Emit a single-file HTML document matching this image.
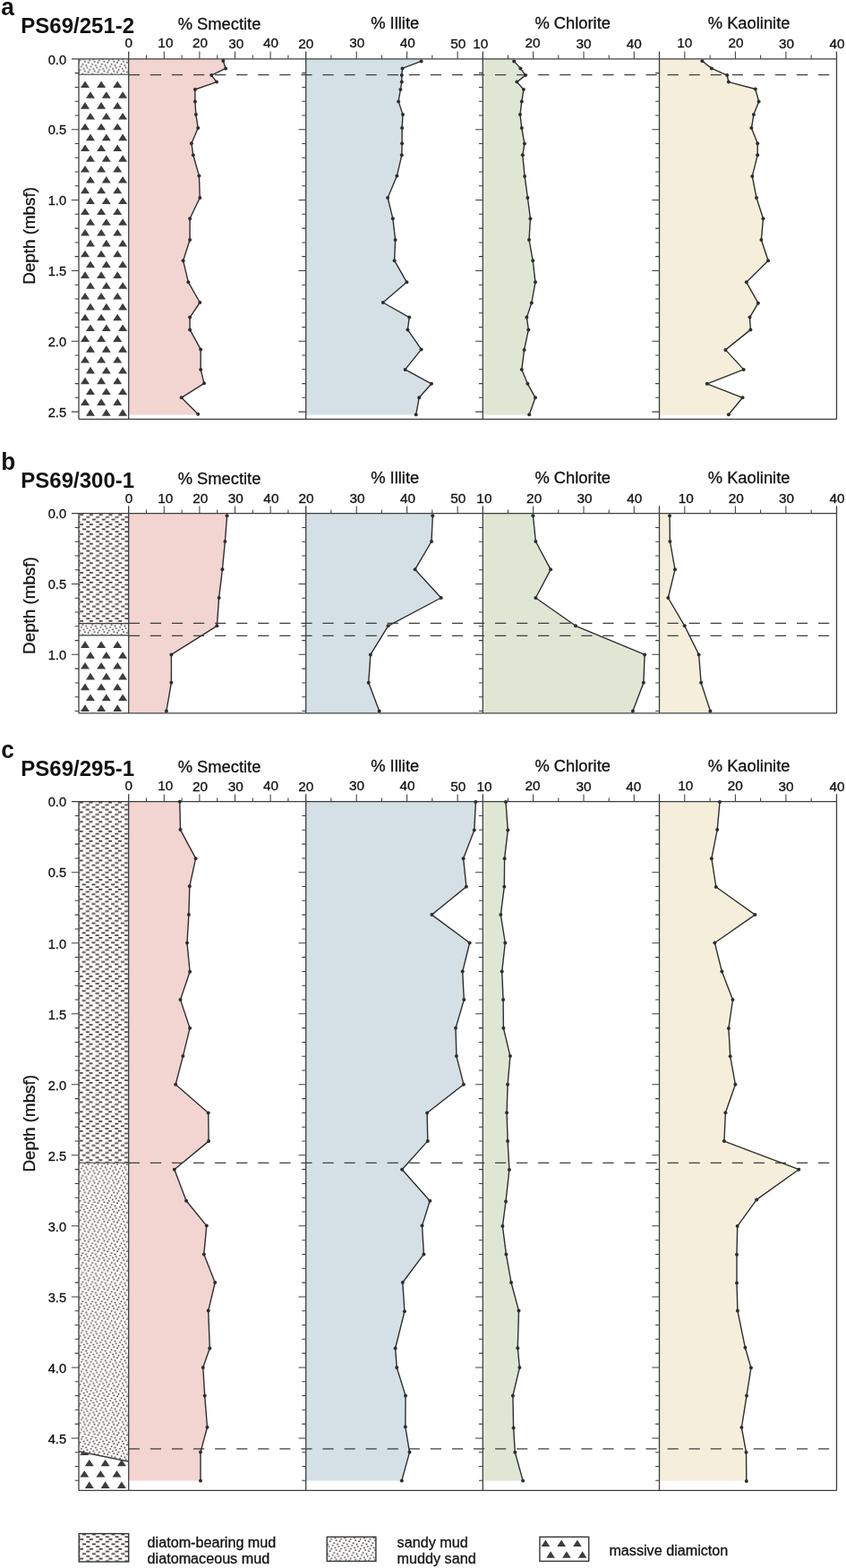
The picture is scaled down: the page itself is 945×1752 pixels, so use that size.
<!DOCTYPE html>
<html lang="en">
<head>
<meta charset="utf-8">
<title>Clay mineral records</title>
<style>html,body{margin:0;padding:0;background:#fff}svg{display:block}</style>
</head>
<body>
<svg width="945" height="1752" viewBox="0 0 945 1752" font-family="'Liberation Sans', Arial, Helvetica, sans-serif" fill="#111111">
<rect x="0" y="0" width="945" height="1752" fill="#ffffff"/>
<defs>
<pattern id="pmud" patternUnits="userSpaceOnUse" x="89.1" y="574.3" width="10.8" height="10.8"><rect x="0" y="0" width="10.8" height="10.8" fill="#fdfaf8"/><rect x="-10.8" y="0" width="4.0" height="1.7" fill="#3c3c3c"/><rect x="0" y="0" width="4.0" height="1.7" fill="#3c3c3c"/><rect x="10.8" y="0" width="4.0" height="1.7" fill="#3c3c3c"/><rect x="-3.6" y="2.7" width="4.0" height="1.7" fill="#3c3c3c"/><rect x="7.2" y="2.7" width="4.0" height="1.7" fill="#3c3c3c"/><rect x="18" y="2.7" width="4.0" height="1.7" fill="#3c3c3c"/><rect x="-7.8" y="5.4" width="4.0" height="1.7" fill="#3c3c3c"/><rect x="3" y="5.4" width="4.0" height="1.7" fill="#3c3c3c"/><rect x="13.8" y="5.4" width="4.0" height="1.7" fill="#3c3c3c"/><rect x="-3.6" y="8.1" width="4.0" height="1.7" fill="#3c3c3c"/><rect x="7.2" y="8.1" width="4.0" height="1.7" fill="#3c3c3c"/><rect x="18" y="8.1" width="4.0" height="1.7" fill="#3c3c3c"/></pattern>
<pattern id="pmudc" patternUnits="userSpaceOnUse" x="88.7" y="895.75" width="10.8" height="10.8"><rect x="0" y="0" width="10.8" height="10.8" fill="#fdfaf8"/><rect x="-10.8" y="0" width="4.0" height="1.7" fill="#3c3c3c"/><rect x="0" y="0" width="4.0" height="1.7" fill="#3c3c3c"/><rect x="10.8" y="0" width="4.0" height="1.7" fill="#3c3c3c"/><rect x="-3.6" y="2.7" width="4.0" height="1.7" fill="#3c3c3c"/><rect x="7.2" y="2.7" width="4.0" height="1.7" fill="#3c3c3c"/><rect x="18" y="2.7" width="4.0" height="1.7" fill="#3c3c3c"/><rect x="-7.8" y="5.4" width="4.0" height="1.7" fill="#3c3c3c"/><rect x="3" y="5.4" width="4.0" height="1.7" fill="#3c3c3c"/><rect x="13.8" y="5.4" width="4.0" height="1.7" fill="#3c3c3c"/><rect x="-3.6" y="8.1" width="4.0" height="1.7" fill="#3c3c3c"/><rect x="7.2" y="8.1" width="4.0" height="1.7" fill="#3c3c3c"/><rect x="18" y="8.1" width="4.0" height="1.7" fill="#3c3c3c"/></pattern>
<pattern id="psand" patternUnits="userSpaceOnUse" x="89.8" y="1400" width="10.8" height="10.8"><rect x="0" y="0" width="10.8" height="10.8" fill="#fdfbfa"/><circle cx="2.54" cy="0.2" r="0.9" fill="#454042"/><circle cx="2.54" cy="11" r="0.9" fill="#454042"/><circle cx="6.36" cy="1.48" r="0.9" fill="#454042"/><circle cx="1.06" cy="2.75" r="0.9" fill="#454042"/><circle cx="7.63" cy="4.03" r="0.9" fill="#454042"/><circle cx="3.81" cy="5.3" r="0.9" fill="#454042"/><circle cx="-0.42" cy="6.57" r="0.9" fill="#454042"/><circle cx="10.38" cy="6.57" r="0.9" fill="#454042"/><circle cx="5.08" cy="8.05" r="0.9" fill="#454042"/><circle cx="8.9" cy="9.11" r="0.9" fill="#454042"/></pattern>
</defs>
<path d="M143.7 65.8L249.3 65.8L249.3 68L252.1 76.4L236.2 84.1L242 91.6L217.9 100L217.9 113.4L218.9 128.1L221.2 143.1L213.9 160.2L215.8 173.3L222.4 196.4L223.3 221L212.1 244.2L212.1 268L204.6 291.2L210.4 315.3L223.3 338L212.1 354.6L212.1 368.4L224.2 390.4L224.2 412.9L228 428.3L202.7 444.3L221.2 462.7L221.2 463.4L143.7 463.4Z" fill="#f2d4d1"/>
<path d="M341.7 65.8L470.6 65.8L470.6 68.4L449.5 76.4L448.8 84.1L448.8 91.6L447.4 100L445.1 113.4L450 128.1L449.1 143.1L449.1 160.2L448.8 173.3L443.4 196.4L433.1 221L438.8 244.2L441.6 268L440.6 291.2L454.4 315.3L427.8 338L457.2 354.6L455.4 368.4L470.6 390.4L452.6 412.9L482 428.8L468.2 444.3L464.7 463.2L464.7 463.4L341.7 463.4Z" fill="#d4e0e5"/>
<path d="M539.3 65.8L574.2 65.8L574.2 68.4L581.4 76.4L587 84.1L577.4 91.6L584.9 100L582.8 113.4L581 128.1L582.8 143.1L585.9 160.6L583.8 173.3L586.1 196.9L589.4 221L592.4 244.2L591 268L595.2 291.2L598 315.3L593.8 338.5L588.4 354.6L590.3 368.4L585.6 390.9L582.8 412.9L589.4 428.8L598 444.3L591.2 463.2L591.2 463.4L539.3 463.4Z" fill="#dfe6d4"/>
<path d="M736.5 65.8L784.4 65.8L784.4 68.2L794.9 76.4L812.2 84.1L813.9 91.6L843.8 99.5L847.6 113.4L841.9 128.1L839.4 143.1L846.2 160.2L846.2 173.3L840.3 196.9L845 221L852.5 244.2L850.4 268L858.1 291.2L833.8 315.3L846.9 338.7L837.5 354.6L838.4 368.4L810.4 390.9L830.7 412.9L789.8 428.8L829.5 444.3L813.9 463.2L813.9 463.4L736.5 463.4Z" fill="#f5eeda"/>
<rect x="88.0" y="65.85" width="55.69999999999999" height="17.35000000000001" fill="url(#psand)"/>
<path d="M88.0 83.2H143.7" stroke="#3b3f42" stroke-width="1.1" fill="none"/>
<g fill="#3d3d3d"><path d="M90 98L100 98L95 90.4Z"/><path d="M108.1 98L118.1 98L113.1 90.4Z"/><path d="M126.2 98L136.2 98L131.2 90.4Z"/><path d="M96 109.8L106 109.8L101 102.2Z"/><path d="M113.8 109.8L123.8 109.8L118.8 102.2Z"/><path d="M132.1 109.8L142.1 109.8L137.1 102.2Z"/><path d="M90 121.7L100 121.7L95 114.1Z"/><path d="M108.1 121.7L118.1 121.7L113.1 114.1Z"/><path d="M126.2 121.7L136.2 121.7L131.2 114.1Z"/><path d="M96 133.5L106 133.5L101 125.9Z"/><path d="M113.8 133.5L123.8 133.5L118.8 125.9Z"/><path d="M132.1 133.5L142.1 133.5L137.1 125.9Z"/><path d="M90 145.3L100 145.3L95 137.7Z"/><path d="M108.1 145.3L118.1 145.3L113.1 137.7Z"/><path d="M126.2 145.3L136.2 145.3L131.2 137.7Z"/><path d="M96 157.2L106 157.2L101 149.6Z"/><path d="M113.8 157.2L123.8 157.2L118.8 149.6Z"/><path d="M132.1 157.2L142.1 157.2L137.1 149.6Z"/><path d="M90 169L100 169L95 161.4Z"/><path d="M108.1 169L118.1 169L113.1 161.4Z"/><path d="M126.2 169L136.2 169L131.2 161.4Z"/><path d="M96 180.8L106 180.8L101 173.2Z"/><path d="M113.8 180.8L123.8 180.8L118.8 173.2Z"/><path d="M132.1 180.8L142.1 180.8L137.1 173.2Z"/><path d="M90 192.6L100 192.6L95 185Z"/><path d="M108.1 192.6L118.1 192.6L113.1 185Z"/><path d="M126.2 192.6L136.2 192.6L131.2 185Z"/><path d="M96 204.5L106 204.5L101 196.9Z"/><path d="M113.8 204.5L123.8 204.5L118.8 196.9Z"/><path d="M132.1 204.5L142.1 204.5L137.1 196.9Z"/><path d="M90 216.3L100 216.3L95 208.7Z"/><path d="M108.1 216.3L118.1 216.3L113.1 208.7Z"/><path d="M126.2 216.3L136.2 216.3L131.2 208.7Z"/><path d="M96 228.1L106 228.1L101 220.5Z"/><path d="M113.8 228.1L123.8 228.1L118.8 220.5Z"/><path d="M132.1 228.1L142.1 228.1L137.1 220.5Z"/><path d="M90 240L100 240L95 232.4Z"/><path d="M108.1 240L118.1 240L113.1 232.4Z"/><path d="M126.2 240L136.2 240L131.2 232.4Z"/><path d="M96 251.8L106 251.8L101 244.2Z"/><path d="M113.8 251.8L123.8 251.8L118.8 244.2Z"/><path d="M132.1 251.8L142.1 251.8L137.1 244.2Z"/><path d="M90 263.6L100 263.6L95 256Z"/><path d="M108.1 263.6L118.1 263.6L113.1 256Z"/><path d="M126.2 263.6L136.2 263.6L131.2 256Z"/><path d="M96 275.4L106 275.4L101 267.8Z"/><path d="M113.8 275.4L123.8 275.4L118.8 267.8Z"/><path d="M132.1 275.4L142.1 275.4L137.1 267.8Z"/><path d="M90 287.3L100 287.3L95 279.7Z"/><path d="M108.1 287.3L118.1 287.3L113.1 279.7Z"/><path d="M126.2 287.3L136.2 287.3L131.2 279.7Z"/><path d="M96 299.1L106 299.1L101 291.5Z"/><path d="M113.8 299.1L123.8 299.1L118.8 291.5Z"/><path d="M132.1 299.1L142.1 299.1L137.1 291.5Z"/><path d="M90 310.9L100 310.9L95 303.3Z"/><path d="M108.1 310.9L118.1 310.9L113.1 303.3Z"/><path d="M126.2 310.9L136.2 310.9L131.2 303.3Z"/><path d="M96 322.8L106 322.8L101 315.2Z"/><path d="M113.8 322.8L123.8 322.8L118.8 315.2Z"/><path d="M132.1 322.8L142.1 322.8L137.1 315.2Z"/><path d="M90 334.6L100 334.6L95 327Z"/><path d="M108.1 334.6L118.1 334.6L113.1 327Z"/><path d="M126.2 334.6L136.2 334.6L131.2 327Z"/><path d="M96 346.4L106 346.4L101 338.8Z"/><path d="M113.8 346.4L123.8 346.4L118.8 338.8Z"/><path d="M132.1 346.4L142.1 346.4L137.1 338.8Z"/><path d="M90 358.3L100 358.3L95 350.7Z"/><path d="M108.1 358.3L118.1 358.3L113.1 350.7Z"/><path d="M126.2 358.3L136.2 358.3L131.2 350.7Z"/><path d="M96 370.1L106 370.1L101 362.5Z"/><path d="M113.8 370.1L123.8 370.1L118.8 362.5Z"/><path d="M132.1 370.1L142.1 370.1L137.1 362.5Z"/><path d="M90 381.9L100 381.9L95 374.3Z"/><path d="M108.1 381.9L118.1 381.9L113.1 374.3Z"/><path d="M126.2 381.9L136.2 381.9L131.2 374.3Z"/><path d="M96 393.8L106 393.8L101 386.1Z"/><path d="M113.8 393.8L123.8 393.8L118.8 386.1Z"/><path d="M132.1 393.8L142.1 393.8L137.1 386.1Z"/><path d="M90 405.6L100 405.6L95 398Z"/><path d="M108.1 405.6L118.1 405.6L113.1 398Z"/><path d="M126.2 405.6L136.2 405.6L131.2 398Z"/><path d="M96 417.4L106 417.4L101 409.8Z"/><path d="M113.8 417.4L123.8 417.4L118.8 409.8Z"/><path d="M132.1 417.4L142.1 417.4L137.1 409.8Z"/><path d="M90 429.2L100 429.2L95 421.6Z"/><path d="M108.1 429.2L118.1 429.2L113.1 421.6Z"/><path d="M126.2 429.2L136.2 429.2L131.2 421.6Z"/><path d="M96 441.1L106 441.1L101 433.5Z"/><path d="M113.8 441.1L123.8 441.1L118.8 433.5Z"/><path d="M132.1 441.1L142.1 441.1L137.1 433.5Z"/><path d="M90 452.9L100 452.9L95 445.3Z"/><path d="M108.1 452.9L118.1 452.9L113.1 445.3Z"/><path d="M126.2 452.9L136.2 452.9L131.2 445.3Z"/><path d="M96 464.7L106 464.7L101 457.1Z"/><path d="M113.8 464.7L123.8 464.7L118.8 457.1Z"/><path d="M132.1 464.7L142.1 464.7L137.1 457.1Z"/></g>
<path d="M143.8 83.7H926.4" stroke="#3b3f42" stroke-width="1.3" stroke-dasharray="12.2 11.87" fill="none"/>
<path d="M80 65.8H934.5M88 468.4H934.5M88 65.8V468.4M143.7 57.4V468.4M341.7 57.4V468.4M539.3 57.4V468.4M736.5 57.4V468.4M934.5 57.4V468.4" stroke="#3b3f42" stroke-width="1.3" fill="none"/>
<text transform="translate(74.1 71.6) scale(1.035 1)" font-size="14.2" text-anchor="end" stroke="#111111" stroke-width="0.3">0.0</text>
<text transform="translate(74.1 150.45) scale(1.035 1)" font-size="14.2" text-anchor="end" stroke="#111111" stroke-width="0.3">0.5</text>
<text transform="translate(74.1 229.3) scale(1.035 1)" font-size="14.2" text-anchor="end" stroke="#111111" stroke-width="0.3">1.0</text>
<text transform="translate(74.1 308.15) scale(1.035 1)" font-size="14.2" text-anchor="end" stroke="#111111" stroke-width="0.3">1.5</text>
<text transform="translate(74.1 387) scale(1.035 1)" font-size="14.2" text-anchor="end" stroke="#111111" stroke-width="0.3">2.0</text>
<text transform="translate(74.1 465.85) scale(1.035 1)" font-size="14.2" text-anchor="end" stroke="#111111" stroke-width="0.3">2.5</text>
<path d="M83.6 81.6H88M337.3 81.6H341.7M534.9 81.6H539.3M732.1 81.6H736.5M83.6 97.4H88M337.3 97.4H341.7M534.9 97.4H539.3M732.1 97.4H736.5M83.6 113.2H88M337.3 113.2H341.7M534.9 113.2H539.3M732.1 113.2H736.5M83.6 128.9H88M337.3 128.9H341.7M534.9 128.9H539.3M732.1 128.9H736.5M79.8 144.7H88M333.5 144.7H341.7M531.1 144.7H539.3M728.3 144.7H736.5M83.6 160.5H88M337.3 160.5H341.7M534.9 160.5H539.3M732.1 160.5H736.5M83.6 176.2H88M337.3 176.2H341.7M534.9 176.2H539.3M732.1 176.2H736.5M83.6 192H88M337.3 192H341.7M534.9 192H539.3M732.1 192H736.5M83.6 207.8H88M337.3 207.8H341.7M534.9 207.8H539.3M732.1 207.8H736.5M79.8 223.5H88M333.5 223.5H341.7M531.1 223.5H539.3M728.3 223.5H736.5M83.6 239.3H88M337.3 239.3H341.7M534.9 239.3H539.3M732.1 239.3H736.5M83.6 255.1H88M337.3 255.1H341.7M534.9 255.1H539.3M732.1 255.1H736.5M83.6 270.9H88M337.3 270.9H341.7M534.9 270.9H539.3M732.1 270.9H736.5M83.6 286.6H88M337.3 286.6H341.7M534.9 286.6H539.3M732.1 286.6H736.5M79.8 302.4H88M333.5 302.4H341.7M531.1 302.4H539.3M728.3 302.4H736.5M83.6 318.2H88M337.3 318.2H341.7M534.9 318.2H539.3M732.1 318.2H736.5M83.6 333.9H88M337.3 333.9H341.7M534.9 333.9H539.3M732.1 333.9H736.5M83.6 349.7H88M337.3 349.7H341.7M534.9 349.7H539.3M732.1 349.7H736.5M83.6 365.5H88M337.3 365.5H341.7M534.9 365.5H539.3M732.1 365.5H736.5M79.8 381.2H88M333.5 381.2H341.7M531.1 381.2H539.3M728.3 381.2H736.5M83.6 397H88M337.3 397H341.7M534.9 397H539.3M732.1 397H736.5M83.6 412.8H88M337.3 412.8H341.7M534.9 412.8H539.3M732.1 412.8H736.5M83.6 428.6H88M337.3 428.6H341.7M534.9 428.6H539.3M732.1 428.6H736.5M83.6 444.3H88M337.3 444.3H341.7M534.9 444.3H539.3M732.1 444.3H736.5M79.8 460.1H88M333.5 460.1H341.7M531.1 460.1H539.3M728.3 460.1H736.5" stroke="#3b3f42" stroke-width="1.05" fill="none"/>
<text transform="translate(143.7 52.75) scale(1.08 1)" font-size="14.2" text-anchor="middle" stroke="#111111" stroke-width="0.3">0</text>
<text transform="translate(184.9 52.75) scale(1.08 1)" font-size="14.2" text-anchor="middle" stroke="#111111" stroke-width="0.3">10</text>
<text transform="translate(223.5 52.75) scale(1.08 1)" font-size="14.2" text-anchor="middle" stroke="#111111" stroke-width="0.3">20</text>
<text transform="translate(263.7 54.35) scale(1.08 1)" font-size="14.2" text-anchor="middle" stroke="#111111" stroke-width="0.3">30</text>
<text transform="translate(302.5 52.75) scale(1.08 1)" font-size="14.2" text-anchor="middle" stroke="#111111" stroke-width="0.3">40</text>
<text transform="translate(245 33.05) scale(1.025 1)" font-size="17.9" text-anchor="middle" stroke="#111111" stroke-width="0.3">% Smectite</text>
<text transform="translate(341.7 54.35) scale(1.08 1)" font-size="14.2" text-anchor="middle" stroke="#111111" stroke-width="0.3">20</text>
<text transform="translate(398.76 52.75) scale(1.08 1)" font-size="14.2" text-anchor="middle" stroke="#111111" stroke-width="0.3">30</text>
<text transform="translate(455.21 52.75) scale(1.08 1)" font-size="14.2" text-anchor="middle" stroke="#111111" stroke-width="0.3">40</text>
<text transform="translate(511.67 54.35) scale(1.08 1)" font-size="14.2" text-anchor="middle" stroke="#111111" stroke-width="0.3">50</text>
<text transform="translate(441.2 32.05) scale(1.025 1)" font-size="17.9" text-anchor="middle" stroke="#111111" stroke-width="0.3">% Illite</text>
<text transform="translate(536.7 54.35) scale(1.08 1)" font-size="14.2" text-anchor="middle" stroke="#111111" stroke-width="0.3">10</text>
<text transform="translate(595.04 52.75) scale(1.08 1)" font-size="14.2" text-anchor="middle" stroke="#111111" stroke-width="0.3">20</text>
<text transform="translate(651.99 54.35) scale(1.08 1)" font-size="14.2" text-anchor="middle" stroke="#111111" stroke-width="0.3">30</text>
<text transform="translate(708.33 54.35) scale(1.08 1)" font-size="14.2" text-anchor="middle" stroke="#111111" stroke-width="0.3">40</text>
<text transform="translate(639.7 32.05) scale(1.025 1)" font-size="17.9" text-anchor="middle" stroke="#111111" stroke-width="0.3">% Chlorite</text>
<text transform="translate(764.79 52.75) scale(1.08 1)" font-size="14.2" text-anchor="middle" stroke="#111111" stroke-width="0.3">10</text>
<text transform="translate(821.96 52.75) scale(1.08 1)" font-size="14.2" text-anchor="middle" stroke="#111111" stroke-width="0.3">20</text>
<text transform="translate(878.63 54.35) scale(1.08 1)" font-size="14.2" text-anchor="middle" stroke="#111111" stroke-width="0.3">30</text>
<text transform="translate(935.1 54.35) scale(1.08 1)" font-size="14.2" text-anchor="middle" stroke="#111111" stroke-width="0.3">40</text>
<text transform="translate(836.6 32.05) scale(1.025 1)" font-size="17.9" text-anchor="middle" stroke="#111111" stroke-width="0.3">% Kaolinite</text>
<path d="M163.5 61.6V65.8M183.3 57.6V65.8M203.1 61.6V65.8M222.9 57.6V65.8M242.7 61.6V65.8M262.5 57.6V65.8M282.3 61.6V65.8M302.1 57.6V65.8M321.9 61.6V65.8M369.9 61.6V65.8M398.2 57.6V65.8M426.4 61.6V65.8M454.6 57.6V65.8M482.8 61.6V65.8M511.1 57.6V65.8M567.5 61.6V65.8M595.6 57.6V65.8M623.8 61.6V65.8M652 57.6V65.8M680.2 61.6V65.8M708.3 57.6V65.8M764.8 57.6V65.8M793.1 61.6V65.8M821.4 57.6V65.8M849.6 61.6V65.8M877.9 57.6V65.8M906.2 61.6V65.8" stroke="#3b3f42" stroke-width="1.05" fill="none"/>
<path d="M249.3 68L252.1 76.4L236.2 84.1L242 91.6L217.9 100L217.9 113.4L218.9 128.1L221.2 143.1L213.9 160.2L215.8 173.3L222.4 196.4L223.3 221L212.1 244.2L212.1 268L204.6 291.2L210.4 315.3L223.3 338L212.1 354.6L212.1 368.4L224.2 390.4L224.2 412.9L228 428.3L202.7 444.3L221.2 462.7" stroke="#2e2e2e" stroke-width="1.4" fill="none" stroke-linejoin="round"/>
<g fill="#2e2e2e"><circle cx="249.3" cy="68" r="2"/><circle cx="252.1" cy="76.4" r="2"/><circle cx="236.2" cy="84.1" r="2"/><circle cx="242" cy="91.6" r="2"/><circle cx="217.9" cy="100" r="2"/><circle cx="217.9" cy="113.4" r="2"/><circle cx="218.9" cy="128.1" r="2"/><circle cx="221.2" cy="143.1" r="2"/><circle cx="213.9" cy="160.2" r="2"/><circle cx="215.8" cy="173.3" r="2"/><circle cx="222.4" cy="196.4" r="2"/><circle cx="223.3" cy="221" r="2"/><circle cx="212.1" cy="244.2" r="2"/><circle cx="212.1" cy="268" r="2"/><circle cx="204.6" cy="291.2" r="2"/><circle cx="210.4" cy="315.3" r="2"/><circle cx="223.3" cy="338" r="2"/><circle cx="212.1" cy="354.6" r="2"/><circle cx="212.1" cy="368.4" r="2"/><circle cx="224.2" cy="390.4" r="2"/><circle cx="224.2" cy="412.9" r="2"/><circle cx="228" cy="428.3" r="2"/><circle cx="202.7" cy="444.3" r="2"/><circle cx="221.2" cy="462.7" r="2"/></g>
<path d="M470.6 68.4L449.5 76.4L448.8 84.1L448.8 91.6L447.4 100L445.1 113.4L450 128.1L449.1 143.1L449.1 160.2L448.8 173.3L443.4 196.4L433.1 221L438.8 244.2L441.6 268L440.6 291.2L454.4 315.3L427.8 338L457.2 354.6L455.4 368.4L470.6 390.4L452.6 412.9L482 428.8L468.2 444.3L464.7 463.2" stroke="#2e2e2e" stroke-width="1.4" fill="none" stroke-linejoin="round"/>
<g fill="#2e2e2e"><circle cx="470.6" cy="68.4" r="2"/><circle cx="449.5" cy="76.4" r="2"/><circle cx="448.8" cy="84.1" r="2"/><circle cx="448.8" cy="91.6" r="2"/><circle cx="447.4" cy="100" r="2"/><circle cx="445.1" cy="113.4" r="2"/><circle cx="450" cy="128.1" r="2"/><circle cx="449.1" cy="143.1" r="2"/><circle cx="449.1" cy="160.2" r="2"/><circle cx="448.8" cy="173.3" r="2"/><circle cx="443.4" cy="196.4" r="2"/><circle cx="433.1" cy="221" r="2"/><circle cx="438.8" cy="244.2" r="2"/><circle cx="441.6" cy="268" r="2"/><circle cx="440.6" cy="291.2" r="2"/><circle cx="454.4" cy="315.3" r="2"/><circle cx="427.8" cy="338" r="2"/><circle cx="457.2" cy="354.6" r="2"/><circle cx="455.4" cy="368.4" r="2"/><circle cx="470.6" cy="390.4" r="2"/><circle cx="452.6" cy="412.9" r="2"/><circle cx="482" cy="428.8" r="2"/><circle cx="468.2" cy="444.3" r="2"/><circle cx="464.7" cy="463.2" r="2"/></g>
<path d="M574.2 68.4L581.4 76.4L587 84.1L577.4 91.6L584.9 100L582.8 113.4L581 128.1L582.8 143.1L585.9 160.6L583.8 173.3L586.1 196.9L589.4 221L592.4 244.2L591 268L595.2 291.2L598 315.3L593.8 338.5L588.4 354.6L590.3 368.4L585.6 390.9L582.8 412.9L589.4 428.8L598 444.3L591.2 463.2" stroke="#2e2e2e" stroke-width="1.4" fill="none" stroke-linejoin="round"/>
<g fill="#2e2e2e"><circle cx="574.2" cy="68.4" r="2"/><circle cx="581.4" cy="76.4" r="2"/><circle cx="587" cy="84.1" r="2"/><circle cx="577.4" cy="91.6" r="2"/><circle cx="584.9" cy="100" r="2"/><circle cx="582.8" cy="113.4" r="2"/><circle cx="581" cy="128.1" r="2"/><circle cx="582.8" cy="143.1" r="2"/><circle cx="585.9" cy="160.6" r="2"/><circle cx="583.8" cy="173.3" r="2"/><circle cx="586.1" cy="196.9" r="2"/><circle cx="589.4" cy="221" r="2"/><circle cx="592.4" cy="244.2" r="2"/><circle cx="591" cy="268" r="2"/><circle cx="595.2" cy="291.2" r="2"/><circle cx="598" cy="315.3" r="2"/><circle cx="593.8" cy="338.5" r="2"/><circle cx="588.4" cy="354.6" r="2"/><circle cx="590.3" cy="368.4" r="2"/><circle cx="585.6" cy="390.9" r="2"/><circle cx="582.8" cy="412.9" r="2"/><circle cx="589.4" cy="428.8" r="2"/><circle cx="598" cy="444.3" r="2"/><circle cx="591.2" cy="463.2" r="2"/></g>
<path d="M784.4 68.2L794.9 76.4L812.2 84.1L813.9 91.6L843.8 99.5L847.6 113.4L841.9 128.1L839.4 143.1L846.2 160.2L846.2 173.3L840.3 196.9L845 221L852.5 244.2L850.4 268L858.1 291.2L833.8 315.3L846.9 338.7L837.5 354.6L838.4 368.4L810.4 390.9L830.7 412.9L789.8 428.8L829.5 444.3L813.9 463.2" stroke="#2e2e2e" stroke-width="1.4" fill="none" stroke-linejoin="round"/>
<g fill="#2e2e2e"><circle cx="784.4" cy="68.2" r="2"/><circle cx="794.9" cy="76.4" r="2"/><circle cx="812.2" cy="84.1" r="2"/><circle cx="813.9" cy="91.6" r="2"/><circle cx="843.8" cy="99.5" r="2"/><circle cx="847.6" cy="113.4" r="2"/><circle cx="841.9" cy="128.1" r="2"/><circle cx="839.4" cy="143.1" r="2"/><circle cx="846.2" cy="160.2" r="2"/><circle cx="846.2" cy="173.3" r="2"/><circle cx="840.3" cy="196.9" r="2"/><circle cx="845" cy="221" r="2"/><circle cx="852.5" cy="244.2" r="2"/><circle cx="850.4" cy="268" r="2"/><circle cx="858.1" cy="291.2" r="2"/><circle cx="833.8" cy="315.3" r="2"/><circle cx="846.9" cy="338.7" r="2"/><circle cx="837.5" cy="354.6" r="2"/><circle cx="838.4" cy="368.4" r="2"/><circle cx="810.4" cy="390.9" r="2"/><circle cx="830.7" cy="412.9" r="2"/><circle cx="789.8" cy="428.8" r="2"/><circle cx="829.5" cy="444.3" r="2"/><circle cx="813.9" cy="463.2" r="2"/></g>
<text transform="translate(1.3 17.45) scale(0.955 1)" font-size="27.5" font-weight="bold">a</text>
<text transform="translate(23.3 36.85) scale(0.993 1)" font-size="24.2" font-weight="bold">PS69/251-2</text>
<text transform="translate(38.5 263.4) rotate(-90) scale(1.05 1)" font-size="17.9" text-anchor="middle" stroke="#111111" stroke-width="0.3">Depth (mbsf)</text>
<path d="M143.7 573.6L253.6 573.6L253.6 576.3L251.4 605L248.4 636.3L244.6 668L242.4 699.3L191.4 731.4L191.4 762.7L185.9 794.4L185.9 796L143.7 796Z" fill="#f2d4d1"/>
<path d="M341.7 573.6L483.3 573.6L483.3 576.3L482 605L463.6 636.3L492.7 668L433.6 699.3L413.9 731.4L411.7 762.7L423.7 794.4L423.7 796L341.7 796Z" fill="#d4e0e5"/>
<path d="M539.3 573.6L595.4 573.6L595.4 576.3L598.4 605L615.1 636.3L598.4 668L643 699.3L720.1 731.4L718.9 762.7L706.9 794.4L706.9 796L539.3 796Z" fill="#dfe6d4"/>
<path d="M736.5 573.6L748 573.6L748 576.3L748.4 605L754 636.3L746.3 668L764.7 699.3L780.6 731.4L783.1 762.7L793.4 794.4L793.4 796L736.5 796Z" fill="#f5eeda"/>
<rect x="88.0" y="573.65" width="55.69999999999999" height="122.95000000000005" fill="url(#pmud)"/>
<rect x="88.0" y="696.6" width="55.69999999999999" height="13.299999999999955" fill="url(#psand)"/>
<path d="M88.0 696.6H143.7M88.0 709.9H143.7" stroke="#3b3f42" stroke-width="1.1" fill="none"/>
<g fill="#3d3d3d"><path d="M90 723.9L100 723.9L95 716.3Z"/><path d="M108.1 723.9L118.1 723.9L113.1 716.3Z"/><path d="M126.2 723.9L136.2 723.9L131.2 716.3Z"/><path d="M96 735.7L106 735.7L101 728.1Z"/><path d="M113.8 735.7L123.8 735.7L118.8 728.1Z"/><path d="M132.1 735.7L142.1 735.7L137.1 728.1Z"/><path d="M90 747.6L100 747.6L95 740Z"/><path d="M108.1 747.6L118.1 747.6L113.1 740Z"/><path d="M126.2 747.6L136.2 747.6L131.2 740Z"/><path d="M96 759.4L106 759.4L101 751.8Z"/><path d="M113.8 759.4L123.8 759.4L118.8 751.8Z"/><path d="M132.1 759.4L142.1 759.4L137.1 751.8Z"/><path d="M90 771.2L100 771.2L95 763.6Z"/><path d="M108.1 771.2L118.1 771.2L113.1 763.6Z"/><path d="M126.2 771.2L136.2 771.2L131.2 763.6Z"/><path d="M96 783L106 783L101 775.4Z"/><path d="M113.8 783L123.8 783L118.8 775.4Z"/><path d="M132.1 783L142.1 783L137.1 775.4Z"/><path d="M90 794.9L100 794.9L95 787.3Z"/><path d="M108.1 794.9L118.1 794.9L113.1 787.3Z"/><path d="M126.2 794.9L136.2 794.9L131.2 787.3Z"/></g>
<path d="M143.8 696.4H926.4" stroke="#3b3f42" stroke-width="1.3" stroke-dasharray="12.2 11.87" fill="none"/>
<path d="M143.8 710.3H926.4" stroke="#3b3f42" stroke-width="1.3" stroke-dasharray="12.2 11.87" fill="none"/>
<path d="M80 573.6H934.5M88 796.9H934.5M88 573.6V796.9M143.7 565.2V796.9M341.7 565.2V796.9M539.3 565.2V796.9M736.5 565.2V796.9M934.5 565.2V796.9" stroke="#3b3f42" stroke-width="1.3" fill="none"/>
<text transform="translate(74.1 579.4) scale(1.035 1)" font-size="14.2" text-anchor="end" stroke="#111111" stroke-width="0.3">0.0</text>
<text transform="translate(74.1 658.25) scale(1.035 1)" font-size="14.2" text-anchor="end" stroke="#111111" stroke-width="0.3">0.5</text>
<text transform="translate(74.1 737.1) scale(1.035 1)" font-size="14.2" text-anchor="end" stroke="#111111" stroke-width="0.3">1.0</text>
<path d="M83.6 589.4H88M337.3 589.4H341.7M534.9 589.4H539.3M732.1 589.4H736.5M83.6 605.2H88M337.3 605.2H341.7M534.9 605.2H539.3M732.1 605.2H736.5M83.6 621H88M337.3 621H341.7M534.9 621H539.3M732.1 621H736.5M83.6 636.7H88M337.3 636.7H341.7M534.9 636.7H539.3M732.1 636.7H736.5M79.8 652.5H88M333.5 652.5H341.7M531.1 652.5H539.3M728.3 652.5H736.5M83.6 668.3H88M337.3 668.3H341.7M534.9 668.3H539.3M732.1 668.3H736.5M83.6 684H88M337.3 684H341.7M534.9 684H539.3M732.1 684H736.5M83.6 699.8H88M337.3 699.8H341.7M534.9 699.8H539.3M732.1 699.8H736.5M83.6 715.6H88M337.3 715.6H341.7M534.9 715.6H539.3M732.1 715.6H736.5M79.8 731.3H88M333.5 731.3H341.7M531.1 731.3H539.3M728.3 731.3H736.5M83.6 747.1H88M337.3 747.1H341.7M534.9 747.1H539.3M732.1 747.1H736.5M83.6 762.9H88M337.3 762.9H341.7M534.9 762.9H539.3M732.1 762.9H736.5M83.6 778.7H88M337.3 778.7H341.7M534.9 778.7H539.3M732.1 778.7H736.5M83.6 794.4H88M337.3 794.4H341.7M534.9 794.4H539.3M732.1 794.4H736.5" stroke="#3b3f42" stroke-width="1.05" fill="none"/>
<text transform="translate(144.1 562.15) scale(1.08 1)" font-size="14.2" text-anchor="middle" stroke="#111111" stroke-width="0.3">0</text>
<text transform="translate(184.7 562.15) scale(1.08 1)" font-size="14.2" text-anchor="middle" stroke="#111111" stroke-width="0.3">10</text>
<text transform="translate(223.7 562.15) scale(1.08 1)" font-size="14.2" text-anchor="middle" stroke="#111111" stroke-width="0.3">20</text>
<text transform="translate(263.3 562.15) scale(1.08 1)" font-size="14.2" text-anchor="middle" stroke="#111111" stroke-width="0.3">30</text>
<text transform="translate(302.9 562.15) scale(1.08 1)" font-size="14.2" text-anchor="middle" stroke="#111111" stroke-width="0.3">40</text>
<text transform="translate(245 540.85) scale(1.025 1)" font-size="17.9" text-anchor="middle" stroke="#111111" stroke-width="0.3">% Smectite</text>
<text transform="translate(342.1 562.15) scale(1.08 1)" font-size="14.2" text-anchor="middle" stroke="#111111" stroke-width="0.3">20</text>
<text transform="translate(398.96 562.15) scale(1.08 1)" font-size="14.2" text-anchor="middle" stroke="#111111" stroke-width="0.3">30</text>
<text transform="translate(455.41 562.15) scale(1.08 1)" font-size="14.2" text-anchor="middle" stroke="#111111" stroke-width="0.3">40</text>
<text transform="translate(511.87 562.15) scale(1.08 1)" font-size="14.2" text-anchor="middle" stroke="#111111" stroke-width="0.3">50</text>
<text transform="translate(441.2 539.85) scale(1.025 1)" font-size="17.9" text-anchor="middle" stroke="#111111" stroke-width="0.3">% Illite</text>
<text transform="translate(540.9 562.15) scale(1.08 1)" font-size="14.2" text-anchor="middle" stroke="#111111" stroke-width="0.3">10</text>
<text transform="translate(596.64 562.15) scale(1.08 1)" font-size="14.2" text-anchor="middle" stroke="#111111" stroke-width="0.3">20</text>
<text transform="translate(652.99 562.15) scale(1.08 1)" font-size="14.2" text-anchor="middle" stroke="#111111" stroke-width="0.3">30</text>
<text transform="translate(708.73 562.15) scale(1.08 1)" font-size="14.2" text-anchor="middle" stroke="#111111" stroke-width="0.3">40</text>
<text transform="translate(639.7 539.85) scale(1.025 1)" font-size="17.9" text-anchor="middle" stroke="#111111" stroke-width="0.3">% Chlorite</text>
<text transform="translate(766.19 562.15) scale(1.08 1)" font-size="14.2" text-anchor="middle" stroke="#111111" stroke-width="0.3">10</text>
<text transform="translate(822.16 562.15) scale(1.08 1)" font-size="14.2" text-anchor="middle" stroke="#111111" stroke-width="0.3">20</text>
<text transform="translate(878.53 562.15) scale(1.08 1)" font-size="14.2" text-anchor="middle" stroke="#111111" stroke-width="0.3">30</text>
<text transform="translate(935 562.15) scale(1.08 1)" font-size="14.2" text-anchor="middle" stroke="#111111" stroke-width="0.3">40</text>
<text transform="translate(836.6 539.85) scale(1.025 1)" font-size="17.9" text-anchor="middle" stroke="#111111" stroke-width="0.3">% Kaolinite</text>
<path d="M163.5 569.4V573.6M183.3 565.4V573.6M203.1 569.4V573.6M222.9 565.4V573.6M242.7 569.4V573.6M262.5 565.4V573.6M282.3 569.4V573.6M302.1 565.4V573.6M321.9 569.4V573.6M369.9 569.4V573.6M398.2 565.4V573.6M426.4 569.4V573.6M454.6 565.4V573.6M482.8 569.4V573.6M511.1 565.4V573.6M567.5 569.4V573.6M595.6 565.4V573.6M623.8 569.4V573.6M652 565.4V573.6M680.2 569.4V573.6M708.3 565.4V573.6M764.8 565.4V573.6M793.1 569.4V573.6M821.4 565.4V573.6M849.6 569.4V573.6M877.9 565.4V573.6M906.2 569.4V573.6" stroke="#3b3f42" stroke-width="1.05" fill="none"/>
<path d="M253.6 576.3L251.4 605L248.4 636.3L244.6 668L242.4 699.3L191.4 731.4L191.4 762.7L185.9 794.4" stroke="#2e2e2e" stroke-width="1.4" fill="none" stroke-linejoin="round"/>
<g fill="#2e2e2e"><circle cx="253.6" cy="576.3" r="2"/><circle cx="251.4" cy="605" r="2"/><circle cx="248.4" cy="636.3" r="2"/><circle cx="244.6" cy="668" r="2"/><circle cx="242.4" cy="699.3" r="2"/><circle cx="191.4" cy="731.4" r="2"/><circle cx="191.4" cy="762.7" r="2"/><circle cx="185.9" cy="794.4" r="2"/></g>
<path d="M483.3 576.3L482 605L463.6 636.3L492.7 668L433.6 699.3L413.9 731.4L411.7 762.7L423.7 794.4" stroke="#2e2e2e" stroke-width="1.4" fill="none" stroke-linejoin="round"/>
<g fill="#2e2e2e"><circle cx="483.3" cy="576.3" r="2"/><circle cx="482" cy="605" r="2"/><circle cx="463.6" cy="636.3" r="2"/><circle cx="492.7" cy="668" r="2"/><circle cx="433.6" cy="699.3" r="2"/><circle cx="413.9" cy="731.4" r="2"/><circle cx="411.7" cy="762.7" r="2"/><circle cx="423.7" cy="794.4" r="2"/></g>
<path d="M595.4 576.3L598.4 605L615.1 636.3L598.4 668L643 699.3L720.1 731.4L718.9 762.7L706.9 794.4" stroke="#2e2e2e" stroke-width="1.4" fill="none" stroke-linejoin="round"/>
<g fill="#2e2e2e"><circle cx="595.4" cy="576.3" r="2"/><circle cx="598.4" cy="605" r="2"/><circle cx="615.1" cy="636.3" r="2"/><circle cx="598.4" cy="668" r="2"/><circle cx="643" cy="699.3" r="2"/><circle cx="720.1" cy="731.4" r="2"/><circle cx="718.9" cy="762.7" r="2"/><circle cx="706.9" cy="794.4" r="2"/></g>
<path d="M748 576.3L748.4 605L754 636.3L746.3 668L764.7 699.3L780.6 731.4L783.1 762.7L793.4 794.4" stroke="#2e2e2e" stroke-width="1.4" fill="none" stroke-linejoin="round"/>
<g fill="#2e2e2e"><circle cx="748" cy="576.3" r="2"/><circle cx="748.4" cy="605" r="2"/><circle cx="754" cy="636.3" r="2"/><circle cx="746.3" cy="668" r="2"/><circle cx="764.7" cy="699.3" r="2"/><circle cx="780.6" cy="731.4" r="2"/><circle cx="783.1" cy="762.7" r="2"/><circle cx="793.4" cy="794.4" r="2"/></g>
<text transform="translate(1.3 525.25) scale(0.955 1)" font-size="27.5" font-weight="bold">b</text>
<text transform="translate(23.3 544.65) scale(0.993 1)" font-size="24.2" font-weight="bold">PS69/300-1</text>
<text transform="translate(38.5 676.6) rotate(-90) scale(1.05 1)" font-size="17.9" text-anchor="middle" stroke="#111111" stroke-width="0.3">Depth (mbsf)</text>
<path d="M143.7 895.7L200.8 895.7L200.8 895.8L201.5 927.1L218.6 959.2L211.8 990.3L210.9 1021.9L209 1053.5L212.1 1085.8L201.5 1117.1L212.1 1148.7L204.4 1180.1L196.2 1211.7L232.7 1243.5L233.1 1275.1L194.8 1306.7L208.1 1341.8L230.8 1369.6L227.8 1401.4L240.2 1433L232.7 1464.6L234.3 1506.5L226.8 1528L228.7 1559.4L231.5 1594.7L224 1622.6L224 1654.6L224 1654.4L143.7 1654.4Z" fill="#f2d4d1"/>
<path d="M341.7 895.7L531.4 895.7L531.4 896L529.8 927.6L517.6 959.2L520.9 990.8L482.3 1022.1L524.6 1053.5L516.7 1085.6L518.3 1117.1L509 1148.7L509.9 1180.1L517.9 1211.7L477.1 1243.5L477.8 1274.9L449.1 1306.7L480.2 1341.8L471.5 1369.6L473.4 1401.4L449.8 1433L451.9 1465.3L441.6 1506.5L443.2 1528L453 1559.4L452.8 1594.3L457.5 1622.6L448.8 1654.4L448.8 1654.4L341.7 1654.4Z" fill="#d4e0e5"/>
<path d="M539.3 895.7L565 895.7L565 896L567.3 927.6L563.6 959.2L563.3 990.8L559.3 1022.1L564.3 1053.5L560.7 1085.6L562.1 1117.1L562.4 1148.7L569.9 1180.1L567.1 1211.7L566.1 1243.3L567.1 1274.9L568.9 1306.9L565 1342.5L561.4 1370.1L565.4 1401.4L571 1433L579.5 1464.6L578.3 1506.3L580.4 1528L572.9 1559.4L573.6 1595.4L575.3 1622.8L584.1 1654.4L584.1 1654.4L539.3 1654.4Z" fill="#dfe6d4"/>
<path d="M736.5 895.7L804 895.7L804 896L801.2 927.1L794.9 959.2L799.8 991L843.4 1022.1L798.4 1053.5L806.4 1085.6L818.5 1117.1L813.9 1149L815.7 1180.3L821.4 1211.7L810.4 1243.3L808.9 1275.1L892.3 1306.7L845.2 1340.4L823.7 1370.1L823 1401.7L823 1433.5L823.9 1464.6L832.4 1505.8L838.9 1528.3L834 1559.6L828.4 1595L833.5 1622.8L833.8 1654.9L833.8 1654.4L736.5 1654.4Z" fill="#f5eeda"/>
<rect x="88.0" y="895.7" width="55.69999999999999" height="403.5" fill="url(#pmudc)"/>
<path d="M88.0 1299.2H143.7V1632.9L88.0 1621.7Z" fill="url(#psand)"/>
<path d="M88.0 1299.2H143.7" stroke="#3b3f42" stroke-width="1.1" fill="none"/>
<path d="M88.0 1621.7L143.7 1632.9" stroke="#3b3f42" stroke-width="1.5" fill="none"/>
<clipPath id="cclip"><path d="M88.0 1621.7L143.7 1632.9V1665.4H88.0Z"/></clipPath>
<g fill="#3d3d3d" clip-path="url(#cclip)"><path d="M89.3 1626L99.3 1626L94.3 1618.4Z"/><path d="M107.4 1626L117.4 1626L112.4 1618.4Z"/><path d="M125.5 1626L135.5 1626L130.5 1618.4Z"/><path d="M94.8 1638.3L104.8 1638.3L99.8 1630.7Z"/><path d="M112.6 1638.3L122.6 1638.3L117.6 1630.7Z"/><path d="M130.9 1638.3L140.9 1638.3L135.9 1630.7Z"/><path d="M89.3 1650.6L99.3 1650.6L94.3 1643Z"/><path d="M107.4 1650.6L117.4 1650.6L112.4 1643Z"/><path d="M125.5 1650.6L135.5 1650.6L130.5 1643Z"/><path d="M94.8 1662.9L104.8 1662.9L99.8 1655.3Z"/><path d="M112.6 1662.9L122.6 1662.9L117.6 1655.3Z"/><path d="M130.9 1662.9L140.9 1662.9L135.9 1655.3Z"/></g>
<path d="M143.8 1299.3H926.4" stroke="#3b3f42" stroke-width="1.3" stroke-dasharray="12.2 11.87" fill="none"/>
<path d="M143.8 1618.9H926.4" stroke="#3b3f42" stroke-width="1.3" stroke-dasharray="12.2 11.87" fill="none"/>
<path d="M80 895.7H934.5M88 1665.4H934.5M88 895.7V1665.4M143.7 887.3V1665.4M341.7 887.3V1665.4M539.3 887.3V1665.4M736.5 887.3V1665.4M934.5 887.3V1665.4" stroke="#3b3f42" stroke-width="1.3" fill="none"/>
<text transform="translate(74.1 901.45) scale(1.035 1)" font-size="14.2" text-anchor="end" stroke="#111111" stroke-width="0.3">0.0</text>
<text transform="translate(74.1 980.48) scale(1.035 1)" font-size="14.2" text-anchor="end" stroke="#111111" stroke-width="0.3">0.5</text>
<text transform="translate(74.1 1059.5) scale(1.035 1)" font-size="14.2" text-anchor="end" stroke="#111111" stroke-width="0.3">1.0</text>
<text transform="translate(74.1 1138.53) scale(1.035 1)" font-size="14.2" text-anchor="end" stroke="#111111" stroke-width="0.3">1.5</text>
<text transform="translate(74.1 1217.55) scale(1.035 1)" font-size="14.2" text-anchor="end" stroke="#111111" stroke-width="0.3">2.0</text>
<text transform="translate(74.1 1296.58) scale(1.035 1)" font-size="14.2" text-anchor="end" stroke="#111111" stroke-width="0.3">2.5</text>
<text transform="translate(74.1 1375.6) scale(1.035 1)" font-size="14.2" text-anchor="end" stroke="#111111" stroke-width="0.3">3.0</text>
<text transform="translate(74.1 1454.62) scale(1.035 1)" font-size="14.2" text-anchor="end" stroke="#111111" stroke-width="0.3">3.5</text>
<text transform="translate(74.1 1533.65) scale(1.035 1)" font-size="14.2" text-anchor="end" stroke="#111111" stroke-width="0.3">4.0</text>
<text transform="translate(74.1 1612.68) scale(1.035 1)" font-size="14.2" text-anchor="end" stroke="#111111" stroke-width="0.3">4.5</text>
<path d="M83.6 911.5H88M337.3 911.5H341.7M534.9 911.5H539.3M732.1 911.5H736.5M83.6 927.3H88M337.3 927.3H341.7M534.9 927.3H539.3M732.1 927.3H736.5M83.6 943.1H88M337.3 943.1H341.7M534.9 943.1H539.3M732.1 943.1H736.5M83.6 958.9H88M337.3 958.9H341.7M534.9 958.9H539.3M732.1 958.9H736.5M79.8 974.7H88M333.5 974.7H341.7M531.1 974.7H539.3M728.3 974.7H736.5M83.6 990.5H88M337.3 990.5H341.7M534.9 990.5H539.3M732.1 990.5H736.5M83.6 1006.3H88M337.3 1006.3H341.7M534.9 1006.3H539.3M732.1 1006.3H736.5M83.6 1022.1H88M337.3 1022.1H341.7M534.9 1022.1H539.3M732.1 1022.1H736.5M83.6 1037.9H88M337.3 1037.9H341.7M534.9 1037.9H539.3M732.1 1037.9H736.5M79.8 1053.8H88M333.5 1053.8H341.7M531.1 1053.8H539.3M728.3 1053.8H736.5M83.6 1069.6H88M337.3 1069.6H341.7M534.9 1069.6H539.3M732.1 1069.6H736.5M83.6 1085.4H88M337.3 1085.4H341.7M534.9 1085.4H539.3M732.1 1085.4H736.5M83.6 1101.2H88M337.3 1101.2H341.7M534.9 1101.2H539.3M732.1 1101.2H736.5M83.6 1117H88M337.3 1117H341.7M534.9 1117H539.3M732.1 1117H736.5M79.8 1132.8H88M333.5 1132.8H341.7M531.1 1132.8H539.3M728.3 1132.8H736.5M83.6 1148.6H88M337.3 1148.6H341.7M534.9 1148.6H539.3M732.1 1148.6H736.5M83.6 1164.4H88M337.3 1164.4H341.7M534.9 1164.4H539.3M732.1 1164.4H736.5M83.6 1180.2H88M337.3 1180.2H341.7M534.9 1180.2H539.3M732.1 1180.2H736.5M83.6 1196H88M337.3 1196H341.7M534.9 1196H539.3M732.1 1196H736.5M79.8 1211.8H88M333.5 1211.8H341.7M531.1 1211.8H539.3M728.3 1211.8H736.5M83.6 1227.6H88M337.3 1227.6H341.7M534.9 1227.6H539.3M732.1 1227.6H736.5M83.6 1243.4H88M337.3 1243.4H341.7M534.9 1243.4H539.3M732.1 1243.4H736.5M83.6 1259.2H88M337.3 1259.2H341.7M534.9 1259.2H539.3M732.1 1259.2H736.5M83.6 1275H88M337.3 1275H341.7M534.9 1275H539.3M732.1 1275H736.5M79.8 1290.8H88M333.5 1290.8H341.7M531.1 1290.8H539.3M728.3 1290.8H736.5M83.6 1306.6H88M337.3 1306.6H341.7M534.9 1306.6H539.3M732.1 1306.6H736.5M83.6 1322.4H88M337.3 1322.4H341.7M534.9 1322.4H539.3M732.1 1322.4H736.5M83.6 1338.2H88M337.3 1338.2H341.7M534.9 1338.2H539.3M732.1 1338.2H736.5M83.6 1354H88M337.3 1354H341.7M534.9 1354H539.3M732.1 1354H736.5M79.8 1369.8H88M333.5 1369.8H341.7M531.1 1369.8H539.3M728.3 1369.8H736.5M83.6 1385.7H88M337.3 1385.7H341.7M534.9 1385.7H539.3M732.1 1385.7H736.5M83.6 1401.5H88M337.3 1401.5H341.7M534.9 1401.5H539.3M732.1 1401.5H736.5M83.6 1417.3H88M337.3 1417.3H341.7M534.9 1417.3H539.3M732.1 1417.3H736.5M83.6 1433.1H88M337.3 1433.1H341.7M534.9 1433.1H539.3M732.1 1433.1H736.5M79.8 1448.9H88M333.5 1448.9H341.7M531.1 1448.9H539.3M728.3 1448.9H736.5M83.6 1464.7H88M337.3 1464.7H341.7M534.9 1464.7H539.3M732.1 1464.7H736.5M83.6 1480.5H88M337.3 1480.5H341.7M534.9 1480.5H539.3M732.1 1480.5H736.5M83.6 1496.3H88M337.3 1496.3H341.7M534.9 1496.3H539.3M732.1 1496.3H736.5M83.6 1512.1H88M337.3 1512.1H341.7M534.9 1512.1H539.3M732.1 1512.1H736.5M79.8 1527.9H88M333.5 1527.9H341.7M531.1 1527.9H539.3M728.3 1527.9H736.5M83.6 1543.7H88M337.3 1543.7H341.7M534.9 1543.7H539.3M732.1 1543.7H736.5M83.6 1559.5H88M337.3 1559.5H341.7M534.9 1559.5H539.3M732.1 1559.5H736.5M83.6 1575.3H88M337.3 1575.3H341.7M534.9 1575.3H539.3M732.1 1575.3H736.5M83.6 1591.1H88M337.3 1591.1H341.7M534.9 1591.1H539.3M732.1 1591.1H736.5M79.8 1606.9H88M333.5 1606.9H341.7M531.1 1606.9H539.3M728.3 1606.9H736.5M83.6 1622.7H88M337.3 1622.7H341.7M534.9 1622.7H539.3M732.1 1622.7H736.5M83.6 1638.5H88M337.3 1638.5H341.7M534.9 1638.5H539.3M732.1 1638.5H736.5M83.6 1654.3H88M337.3 1654.3H341.7M534.9 1654.3H539.3M732.1 1654.3H736.5" stroke="#3b3f42" stroke-width="1.05" fill="none"/>
<text transform="translate(143.7 882.6) scale(1.08 1)" font-size="14.2" text-anchor="middle" stroke="#111111" stroke-width="0.3">0</text>
<text transform="translate(184.7 882.6) scale(1.08 1)" font-size="14.2" text-anchor="middle" stroke="#111111" stroke-width="0.3">10</text>
<text transform="translate(223.5 884.2) scale(1.08 1)" font-size="14.2" text-anchor="middle" stroke="#111111" stroke-width="0.3">20</text>
<text transform="translate(263.3 884.2) scale(1.08 1)" font-size="14.2" text-anchor="middle" stroke="#111111" stroke-width="0.3">30</text>
<text transform="translate(302.5 882.6) scale(1.08 1)" font-size="14.2" text-anchor="middle" stroke="#111111" stroke-width="0.3">40</text>
<text transform="translate(245 862.9) scale(1.025 1)" font-size="17.9" text-anchor="middle" stroke="#111111" stroke-width="0.3">% Smectite</text>
<text transform="translate(341.7 884.2) scale(1.08 1)" font-size="14.2" text-anchor="middle" stroke="#111111" stroke-width="0.3">20</text>
<text transform="translate(398.56 882.6) scale(1.08 1)" font-size="14.2" text-anchor="middle" stroke="#111111" stroke-width="0.3">30</text>
<text transform="translate(455.01 882.6) scale(1.08 1)" font-size="14.2" text-anchor="middle" stroke="#111111" stroke-width="0.3">40</text>
<text transform="translate(511.67 884.2) scale(1.08 1)" font-size="14.2" text-anchor="middle" stroke="#111111" stroke-width="0.3">50</text>
<text transform="translate(441.2 861.9) scale(1.025 1)" font-size="17.9" text-anchor="middle" stroke="#111111" stroke-width="0.3">% Illite</text>
<text transform="translate(541.1 884.2) scale(1.08 1)" font-size="14.2" text-anchor="middle" stroke="#111111" stroke-width="0.3">10</text>
<text transform="translate(595.04 882.6) scale(1.08 1)" font-size="14.2" text-anchor="middle" stroke="#111111" stroke-width="0.3">20</text>
<text transform="translate(651.99 884.2) scale(1.08 1)" font-size="14.2" text-anchor="middle" stroke="#111111" stroke-width="0.3">30</text>
<text transform="translate(707.83 884.2) scale(1.08 1)" font-size="14.2" text-anchor="middle" stroke="#111111" stroke-width="0.3">40</text>
<text transform="translate(639.7 861.9) scale(1.025 1)" font-size="17.9" text-anchor="middle" stroke="#111111" stroke-width="0.3">% Chlorite</text>
<text transform="translate(765.79 882.6) scale(1.08 1)" font-size="14.2" text-anchor="middle" stroke="#111111" stroke-width="0.3">10</text>
<text transform="translate(821.36 882.6) scale(1.08 1)" font-size="14.2" text-anchor="middle" stroke="#111111" stroke-width="0.3">20</text>
<text transform="translate(877.93 884.2) scale(1.08 1)" font-size="14.2" text-anchor="middle" stroke="#111111" stroke-width="0.3">30</text>
<text transform="translate(935 884.2) scale(1.08 1)" font-size="14.2" text-anchor="middle" stroke="#111111" stroke-width="0.3">40</text>
<text transform="translate(836.6 861.9) scale(1.025 1)" font-size="17.9" text-anchor="middle" stroke="#111111" stroke-width="0.3">% Kaolinite</text>
<path d="M163.5 891.5V895.7M183.3 887.5V895.7M203.1 891.5V895.7M222.9 887.5V895.7M242.7 891.5V895.7M262.5 887.5V895.7M282.3 891.5V895.7M302.1 887.5V895.7M321.9 891.5V895.7M369.9 891.5V895.7M398.2 887.5V895.7M426.4 891.5V895.7M454.6 887.5V895.7M482.8 891.5V895.7M511.1 887.5V895.7M567.5 891.5V895.7M595.6 887.5V895.7M623.8 891.5V895.7M652 887.5V895.7M680.2 891.5V895.7M708.3 887.5V895.7M764.8 887.5V895.7M793.1 891.5V895.7M821.4 887.5V895.7M849.6 891.5V895.7M877.9 887.5V895.7M906.2 891.5V895.7" stroke="#3b3f42" stroke-width="1.05" fill="none"/>
<path d="M200.8 895.8L201.5 927.1L218.6 959.2L211.8 990.3L210.9 1021.9L209 1053.5L212.1 1085.8L201.5 1117.1L212.1 1148.7L204.4 1180.1L196.2 1211.7L232.7 1243.5L233.1 1275.1L194.8 1306.7L208.1 1341.8L230.8 1369.6L227.8 1401.4L240.2 1433L232.7 1464.6L234.3 1506.5L226.8 1528L228.7 1559.4L231.5 1594.7L224 1622.6L224 1654.6" stroke="#2e2e2e" stroke-width="1.4" fill="none" stroke-linejoin="round"/>
<g fill="#2e2e2e"><circle cx="200.8" cy="895.8" r="2"/><circle cx="201.5" cy="927.1" r="2"/><circle cx="218.6" cy="959.2" r="2"/><circle cx="211.8" cy="990.3" r="2"/><circle cx="210.9" cy="1021.9" r="2"/><circle cx="209" cy="1053.5" r="2"/><circle cx="212.1" cy="1085.8" r="2"/><circle cx="201.5" cy="1117.1" r="2"/><circle cx="212.1" cy="1148.7" r="2"/><circle cx="204.4" cy="1180.1" r="2"/><circle cx="196.2" cy="1211.7" r="2"/><circle cx="232.7" cy="1243.5" r="2"/><circle cx="233.1" cy="1275.1" r="2"/><circle cx="194.8" cy="1306.7" r="2"/><circle cx="208.1" cy="1341.8" r="2"/><circle cx="230.8" cy="1369.6" r="2"/><circle cx="227.8" cy="1401.4" r="2"/><circle cx="240.2" cy="1433" r="2"/><circle cx="232.7" cy="1464.6" r="2"/><circle cx="234.3" cy="1506.5" r="2"/><circle cx="226.8" cy="1528" r="2"/><circle cx="228.7" cy="1559.4" r="2"/><circle cx="231.5" cy="1594.7" r="2"/><circle cx="224" cy="1622.6" r="2"/><circle cx="224" cy="1654.6" r="2"/></g>
<path d="M531.4 896L529.8 927.6L517.6 959.2L520.9 990.8L482.3 1022.1L524.6 1053.5L516.7 1085.6L518.3 1117.1L509 1148.7L509.9 1180.1L517.9 1211.7L477.1 1243.5L477.8 1274.9L449.1 1306.7L480.2 1341.8L471.5 1369.6L473.4 1401.4L449.8 1433L451.9 1465.3L441.6 1506.5L443.2 1528L453 1559.4L452.8 1594.3L457.5 1622.6L448.8 1654.4" stroke="#2e2e2e" stroke-width="1.4" fill="none" stroke-linejoin="round"/>
<g fill="#2e2e2e"><circle cx="531.4" cy="896" r="2"/><circle cx="529.8" cy="927.6" r="2"/><circle cx="517.6" cy="959.2" r="2"/><circle cx="520.9" cy="990.8" r="2"/><circle cx="482.3" cy="1022.1" r="2"/><circle cx="524.6" cy="1053.5" r="2"/><circle cx="516.7" cy="1085.6" r="2"/><circle cx="518.3" cy="1117.1" r="2"/><circle cx="509" cy="1148.7" r="2"/><circle cx="509.9" cy="1180.1" r="2"/><circle cx="517.9" cy="1211.7" r="2"/><circle cx="477.1" cy="1243.5" r="2"/><circle cx="477.8" cy="1274.9" r="2"/><circle cx="449.1" cy="1306.7" r="2"/><circle cx="480.2" cy="1341.8" r="2"/><circle cx="471.5" cy="1369.6" r="2"/><circle cx="473.4" cy="1401.4" r="2"/><circle cx="449.8" cy="1433" r="2"/><circle cx="451.9" cy="1465.3" r="2"/><circle cx="441.6" cy="1506.5" r="2"/><circle cx="443.2" cy="1528" r="2"/><circle cx="453" cy="1559.4" r="2"/><circle cx="452.8" cy="1594.3" r="2"/><circle cx="457.5" cy="1622.6" r="2"/><circle cx="448.8" cy="1654.4" r="2"/></g>
<path d="M565 896L567.3 927.6L563.6 959.2L563.3 990.8L559.3 1022.1L564.3 1053.5L560.7 1085.6L562.1 1117.1L562.4 1148.7L569.9 1180.1L567.1 1211.7L566.1 1243.3L567.1 1274.9L568.9 1306.9L565 1342.5L561.4 1370.1L565.4 1401.4L571 1433L579.5 1464.6L578.3 1506.3L580.4 1528L572.9 1559.4L573.6 1595.4L575.3 1622.8L584.1 1654.4" stroke="#2e2e2e" stroke-width="1.4" fill="none" stroke-linejoin="round"/>
<g fill="#2e2e2e"><circle cx="565" cy="896" r="2"/><circle cx="567.3" cy="927.6" r="2"/><circle cx="563.6" cy="959.2" r="2"/><circle cx="563.3" cy="990.8" r="2"/><circle cx="559.3" cy="1022.1" r="2"/><circle cx="564.3" cy="1053.5" r="2"/><circle cx="560.7" cy="1085.6" r="2"/><circle cx="562.1" cy="1117.1" r="2"/><circle cx="562.4" cy="1148.7" r="2"/><circle cx="569.9" cy="1180.1" r="2"/><circle cx="567.1" cy="1211.7" r="2"/><circle cx="566.1" cy="1243.3" r="2"/><circle cx="567.1" cy="1274.9" r="2"/><circle cx="568.9" cy="1306.9" r="2"/><circle cx="565" cy="1342.5" r="2"/><circle cx="561.4" cy="1370.1" r="2"/><circle cx="565.4" cy="1401.4" r="2"/><circle cx="571" cy="1433" r="2"/><circle cx="579.5" cy="1464.6" r="2"/><circle cx="578.3" cy="1506.3" r="2"/><circle cx="580.4" cy="1528" r="2"/><circle cx="572.9" cy="1559.4" r="2"/><circle cx="573.6" cy="1595.4" r="2"/><circle cx="575.3" cy="1622.8" r="2"/><circle cx="584.1" cy="1654.4" r="2"/></g>
<path d="M804 896L801.2 927.1L794.9 959.2L799.8 991L843.4 1022.1L798.4 1053.5L806.4 1085.6L818.5 1117.1L813.9 1149L815.7 1180.3L821.4 1211.7L810.4 1243.3L808.9 1275.1L892.3 1306.7L845.2 1340.4L823.7 1370.1L823 1401.7L823 1433.5L823.9 1464.6L832.4 1505.8L838.9 1528.3L834 1559.6L828.4 1595L833.5 1622.8L833.8 1654.9" stroke="#2e2e2e" stroke-width="1.4" fill="none" stroke-linejoin="round"/>
<g fill="#2e2e2e"><circle cx="804" cy="896" r="2"/><circle cx="801.2" cy="927.1" r="2"/><circle cx="794.9" cy="959.2" r="2"/><circle cx="799.8" cy="991" r="2"/><circle cx="843.4" cy="1022.1" r="2"/><circle cx="798.4" cy="1053.5" r="2"/><circle cx="806.4" cy="1085.6" r="2"/><circle cx="818.5" cy="1117.1" r="2"/><circle cx="813.9" cy="1149" r="2"/><circle cx="815.7" cy="1180.3" r="2"/><circle cx="821.4" cy="1211.7" r="2"/><circle cx="810.4" cy="1243.3" r="2"/><circle cx="808.9" cy="1275.1" r="2"/><circle cx="892.3" cy="1306.7" r="2"/><circle cx="845.2" cy="1340.4" r="2"/><circle cx="823.7" cy="1370.1" r="2"/><circle cx="823" cy="1401.7" r="2"/><circle cx="823" cy="1433.5" r="2"/><circle cx="823.9" cy="1464.6" r="2"/><circle cx="832.4" cy="1505.8" r="2"/><circle cx="838.9" cy="1528.3" r="2"/><circle cx="834" cy="1559.6" r="2"/><circle cx="828.4" cy="1595" r="2"/><circle cx="833.5" cy="1622.8" r="2"/><circle cx="833.8" cy="1654.9" r="2"/></g>
<text transform="translate(1.3 847.3) scale(0.955 1)" font-size="27.5" font-weight="bold">c</text>
<text transform="translate(23.3 866.7) scale(0.993 1)" font-size="24.2" font-weight="bold">PS69/295-1</text>
<text transform="translate(38.5 1255.3) rotate(-90) scale(1.05 1)" font-size="17.9" text-anchor="middle" stroke="#111111" stroke-width="0.3">Depth (mbsf)</text>
<rect x="88.2" y="1713.6" width="55.5" height="31.4" fill="url(#pmud)" stroke="#333638" stroke-width="1.4"/>
<rect x="365.2" y="1717.3" width="54.7" height="27.1" fill="url(#psand)" stroke="#333638" stroke-width="1.4"/>
<rect x="602.9" y="1717.3" width="54.8" height="27.1" fill="#ffffff" stroke="#333638" stroke-width="1.4"/>
<g fill="#3d3d3d"><path d="M604.6 1728L614.2 1728L609.4 1720.5Z"/><path d="M622.3 1728L631.9 1728L627.1 1720.5Z"/><path d="M640.1 1728L649.7 1728L644.9 1720.5Z"/><path d="M610.3 1740.8L619.9 1740.8L615.1 1733.3Z"/><path d="M628.1 1740.8L637.7 1740.8L632.9 1733.3Z"/><path d="M645.8 1740.8L655.4 1740.8L650.6 1733.3Z"/></g>
<text transform="translate(164.6 1728.8) scale(1.01 1)" font-size="16" stroke="#111111" stroke-width="0.3">diatom-bearing mud</text>
<text transform="translate(164.6 1747) scale(1.01 1)" font-size="16" stroke="#111111" stroke-width="0.3">diatomaceous mud</text>
<text transform="translate(443.6 1728.8) scale(1.01 1)" font-size="16" stroke="#111111" stroke-width="0.3">sandy mud</text>
<text transform="translate(443.6 1747) scale(1.01 1)" font-size="16" stroke="#111111" stroke-width="0.3">muddy sand</text>
<text transform="translate(680.4 1738) scale(1.01 1)" font-size="16" stroke="#111111" stroke-width="0.3">massive diamicton</text>
</svg>
</body>
</html>
